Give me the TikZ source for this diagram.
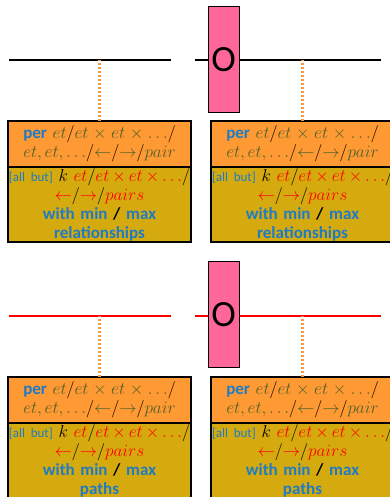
\documentclass[tikz,border=0pt]{standalone}
\usepackage{fontspec}
\setmainfont{Carlito}
\usepackage{tikz}
\usetikzlibrary{positioning}
\definecolor{perorange}{HTML}{FF9933}
\definecolor{kyellow}{HTML}{D4AA0E}
\definecolor{rolepink}{HTML}{FF6699}
\definecolor{kwblue}{HTML}{1F7BC4}
\definecolor{etgreen}{HTML}{4F6228}
\definecolor{taporange}{HTML}{F79646}
\newcommand{\bsl}{\textcolor{black}{$/$}}
\newcommand{\et}[1]{\textcolor{etgreen}{$#1$}}
\newcommand{\ek}[1]{\textcolor{red}{$#1$}}
\newcommand{\perText}{\textcolor{kwblue}{\bfseries per} \et{et}\bsl\et{et\times et\times \ldots}\bsl\\
  \et{et,et,\ldots}\bsl\et{\leftarrow}\bsl\et{\rightarrow}\bsl\et{pair}}
\newcommand{\kText}[1]{{\fontsize{13}{16}\selectfont\textcolor{kwblue}{[all but]}} $k$ \ek{et}\bsl\ek{et\times et\times \ldots}\bsl\\
  \ek{\leftarrow}\bsl\ek{\rightarrow}\bsl\ek{pairs}\\
  {\bfseries\textcolor{kwblue}{with min} / \textcolor{kwblue}{max}}\\
  \textcolor{kwblue}{\bfseries #1}}

\begin{document}
\begin{tikzpicture}[
    x=1pt, y=-1pt,
    node distance=0pt,
    box/.style={draw=black, line width=1.4pt, outer sep=0pt, inner sep=0pt, minimum width=183pt,
      text width=181pt, align=center, font=\fontsize{17}{19}\selectfont},
    perbox/.style={box, fill=perorange, minimum height=46pt},
    kbox/.style={box, fill=kyellow, minimum height=75pt},
    role/.style={draw=black, line width=1pt, fill=rolepink, minimum width=31pt, minimum height=106pt,
      inner sep=0pt, font=\fontsize{37}{37}\selectfont},
    wire/.style={draw=black, line width=2pt},
    pathwire/.style={draw=red, line width=1.6pt},
    tap/.style={draw=taporange, line width=2.2pt, dash pattern=on 2pt off 2pt},
]
\useasboundingbox (0,0) rectangle (390,497);
\clip (0,0) rectangle (390,497);

% Relationship row
\coordinate (relLw) at (9,60);
\coordinate (relLe) at (171,60);
\coordinate (relRw) at (195,60);
\coordinate (relRe) at (381,60);
\draw[wire] (relLw) -- (relLe);
\draw[wire] (relRw) -- (relRe);
\node[role] (relRole) at (223.5,60) {O};

\node[perbox, anchor=north west] (relPerL) at (8,121) {\perText};
\node[kbox, below=of relPerL] (relKL) {\kText{relationships}};
\node[perbox, anchor=north west] (relPerR) at (211,121) {\perText};
\node[kbox, below=of relPerR] (relKR) {\kText{relationships}};

\draw[tap] (relPerL.north) -- (relPerL.north |- relLw);
\draw[tap] (relPerR.north) -- (relPerR.north |- relRw);

% Path row
\coordinate (pathLw) at (9,316);
\coordinate (pathLe) at (171,316);
\coordinate (pathRw) at (195,316);
\coordinate (pathRe) at (381,316);
\draw[pathwire] (pathLw) -- (pathLe);
\draw[pathwire] (pathRw) -- (pathRe);
\node[role] (pathRole) at (223.5,314.5) {O};

\node[perbox, anchor=north west] (pathPerL) at (8,377) {\perText};
\node[kbox, below=of pathPerL] (pathKL) {\kText{paths}};
\node[perbox, anchor=north west] (pathPerR) at (211,377) {\perText};
\node[kbox, below=of pathPerR] (pathKR) {\kText{paths}};

\draw[tap] (pathPerL.north) -- (pathPerL.north |- pathLw);
\draw[tap] (pathPerR.north) -- (pathPerR.north |- pathRw);
\end{tikzpicture}
\end{document}
